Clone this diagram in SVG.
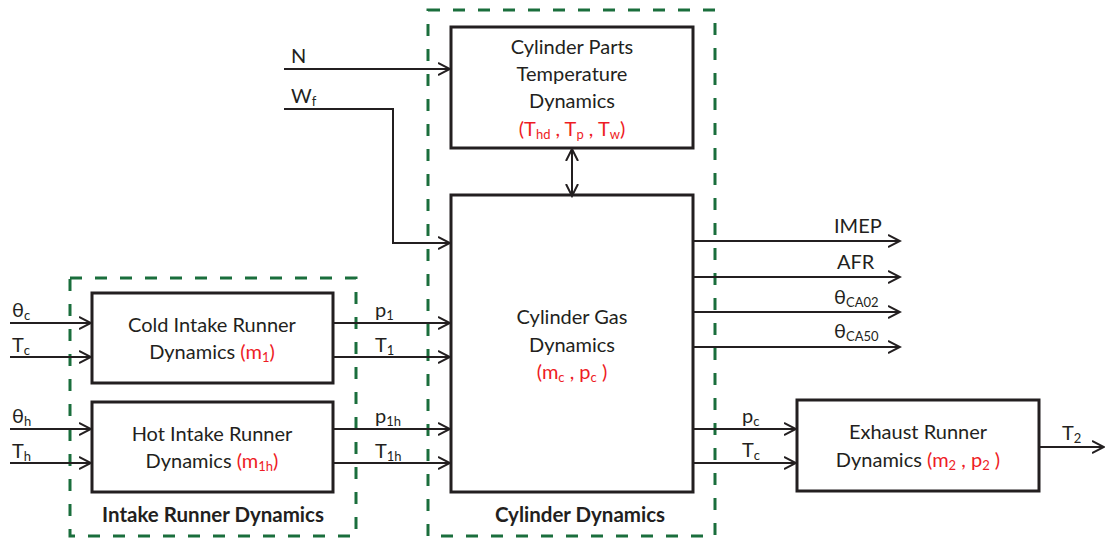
<svg xmlns="http://www.w3.org/2000/svg" width="1105" height="539" viewBox="0 0 1105 539">
<defs>
<marker id="arr" markerUnits="userSpaceOnUse" markerWidth="14" markerHeight="14" refX="12" refY="6" orient="auto-start-reverse" viewBox="0 0 14 12">
<path d="M0,0 L12,6 L0,12" fill="none" stroke="#231f20" stroke-width="2"/>
</marker>
</defs>
<style>
.box{fill:#fff;stroke:#231f20;stroke-width:3}
.grp{fill:none;stroke:#1a6e3c;stroke-width:3;stroke-dasharray:12 13}
.c{fill:none;stroke:#231f20;stroke-width:2}
.a{marker-end:url(#arr)}
text{font-family:Lato,"Open Sans","Liberation Sans",sans-serif;fill:#231f20}
.t{font-size:20px;text-anchor:middle}
.r{fill:#ee1c25}
.lb{font-size:20px}
.b{font-size:20.5px;font-weight:bold;text-anchor:middle}
.s{font-size:13px}
</style>
<rect width="1105" height="539" fill="#fff"/>
<g id="intake-group">
<rect class="grp" x="70" y="278" width="286" height="258"/>
<text class="b" x="213" y="522">Intake Runner Dynamics</text>
</g>
<g id="cylinder-group">
<rect class="grp" x="428" y="10" width="287" height="526"/>
<text class="b" x="580" y="522">Cylinder Dynamics</text>
</g>
<g id="cold">
<rect class="box" x="92" y="293" width="241" height="90"/>
<text class="t" x="212" y="332">Cold Intake Runner</text>
<text class="t" x="212" y="359">Dynamics <tspan class="r">(m<tspan class="s" dy="3">1</tspan><tspan dy="-3">)</tspan></tspan></text>
</g>
<g id="hot">
<rect class="box" x="92" y="402" width="241" height="90"/>
<text class="t" x="212" y="441">Hot Intake Runner</text>
<text class="t" x="212" y="468">Dynamics <tspan class="r">(m<tspan class="s" dy="3">1h</tspan><tspan dy="-3">)</tspan></tspan></text>
</g>
<g id="parts">
<rect class="box" x="451" y="27" width="242" height="121"/>
<text class="t" x="572" y="54">Cylinder Parts</text>
<text class="t" x="572" y="81">Temperature</text>
<text class="t" x="572" y="108">Dynamics</text>
<text class="t r" x="572" y="136">(T<tspan class="s" dy="3">hd</tspan><tspan dy="-3"> , T</tspan><tspan class="s" dy="3">p</tspan><tspan dy="-3"> , T</tspan><tspan class="s" dy="3">w</tspan><tspan dy="-3">)</tspan></text>
</g>
<g id="gas">
<rect class="box" x="451" y="195" width="242" height="297"/>
<text class="t" x="572" y="324">Cylinder Gas</text>
<text class="t" x="572" y="352">Dynamics</text>
<text class="t r" x="572" y="379">(m<tspan class="s" dy="3">c</tspan><tspan dy="-3"> , p</tspan><tspan class="s" dy="3">c</tspan><tspan dy="-3"> )</tspan></text>
</g>
<g id="exhaust">
<rect class="box" x="797" y="400" width="242" height="91"/>
<text class="t" x="918" y="439">Exhaust Runner</text>
<text class="t" x="918" y="467">Dynamics <tspan class="r">(m<tspan class="s" dy="3">2</tspan><tspan dy="-3"> , p</tspan><tspan class="s" dy="3">2</tspan><tspan dy="-3"> )</tspan></tspan></text>
</g>
<g id="connectors">
<line class="c a" x1="10" y1="323" x2="91" y2="323"/>
<line class="c a" x1="10" y1="357" x2="91" y2="357"/>
<line class="c a" x1="10" y1="429" x2="91" y2="429"/>
<line class="c a" x1="10" y1="463" x2="91" y2="463"/>
<line class="c a" x1="334" y1="323" x2="450" y2="323"/>
<line class="c a" x1="334" y1="357" x2="450" y2="357"/>
<line class="c a" x1="334" y1="429" x2="450" y2="429"/>
<line class="c a" x1="334" y1="463" x2="450" y2="463"/>
<line class="c a" x1="284" y1="69" x2="450" y2="69"/>
<polyline class="c a" points="284,109 393,109 393,243 450,243"/>
<line class="c a" x1="572" y1="196" x2="572" y2="149" style="marker-start:url(#arr)"/>
<line class="c a" x1="694" y1="241" x2="900" y2="241"/>
<line class="c a" x1="694" y1="277" x2="900" y2="277"/>
<line class="c a" x1="694" y1="312" x2="900" y2="312"/>
<line class="c a" x1="694" y1="347" x2="900" y2="347"/>
<line class="c a" x1="694" y1="429" x2="796" y2="429"/>
<line class="c a" x1="694" y1="463" x2="796" y2="463"/>
<line class="c a" x1="1040" y1="447" x2="1104" y2="447"/>
</g>
<g id="labels">
<text class="lb" x="12" y="317">θ<tspan class="s" dy="3">c</tspan></text>
<text class="lb" x="12" y="352">T<tspan class="s" dy="3">c</tspan></text>
<text class="lb" x="12" y="423">θ<tspan class="s" dy="3">h</tspan></text>
<text class="lb" x="12" y="458">T<tspan class="s" dy="3">h</tspan></text>
<text class="lb" x="375" y="317">p<tspan class="s" dy="3">1</tspan></text>
<text class="lb" x="375" y="352">T<tspan class="s" dy="3">1</tspan></text>
<text class="lb" x="375" y="423">p<tspan class="s" dy="3">1h</tspan></text>
<text class="lb" x="375" y="458">T<tspan class="s" dy="3">1h</tspan></text>
<text class="lb" x="291" y="63">N</text>
<text class="lb" x="291" y="103">W<tspan class="s" dy="3">f</tspan></text>
<text class="lb" x="834" y="233">IMEP</text>
<text class="lb" x="837" y="269">AFR</text>
<text class="lb" x="834" y="304">θ<tspan class="s" dy="3">CA02</tspan></text>
<text class="lb" x="834" y="338">θ<tspan class="s" dy="3">CA50</tspan></text>
<text class="lb" x="742" y="423">p<tspan class="s" dy="3">c</tspan></text>
<text class="lb" x="742" y="457">T<tspan class="s" dy="3">c</tspan></text>
<text class="lb" x="1062" y="440">T<tspan class="s" dy="3">2</tspan></text>
</g>
</svg>
